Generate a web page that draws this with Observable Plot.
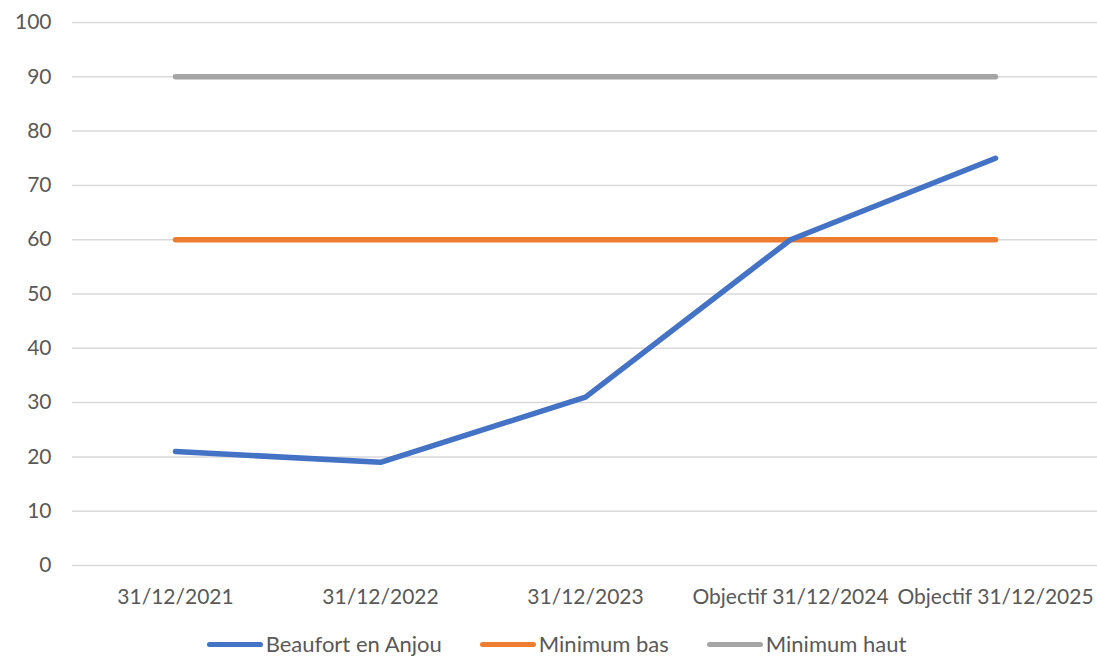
<!DOCTYPE html>
<html><head><meta charset="utf-8">
<script src="https://cdn.jsdelivr.net/npm/d3@7"></script>
<script src="https://cdn.jsdelivr.net/npm/@observablehq/plot@0.6"></script>
<style>
html,body{margin:0;padding:0;background:#fff;overflow:hidden;}
body{font-family:Lato,"Open Sans",sans-serif;color:#595959;}
#legend{display:flex;justify-content:center;height:36px;align-items:center;font-size:22px;line-height:24px;margin-left:16px;margin-top:16px;}
.item{display:flex;align-items:center;margin:0 19px;}
.sw{width:56px;height:5px;border-radius:3px;margin-right:3px;}
</style></head><body>
<div id="chart"></div>
<div id="legend"></div>
<script>
const categories = ["31/12/2021","31/12/2022","31/12/2023","Objectif 31/12/2024","Objectif 31/12/2025"];
const beaufort = [21, 19, 31, 60, 75];
const minBas = [60, 60, 60, 60, 60];
const minHaut = [90, 90, 90, 90, 90];
const seriesNames = ["Beaufort en Anjou","Minimum bas","Minimum haut"];
const colors = ["#4472c4","#ed7d31","#a5a5a5"];
const yTicks = [0,10,20,30,40,50,60,70,80,90,100];

const rows = [];
[beaufort, minBas, minHaut].forEach((arr, s) => arr.forEach((v, i) => rows.push({cat: categories[i], value: v, series: seriesNames[s]})));

const plot = Plot.plot({
  width: 1097, height: 610,
  marginTop: 22, marginBottom: 45, marginLeft: 72, marginRight: 0,
  style: {fontFamily: "Lato, 'Open Sans', sans-serif", fontSize: "21px", color: "#595959", background: "#fff"},
  x: {type: "point", domain: categories, padding: 0.5, label: null},
  y: {domain: [0, 100], label: null},
  color: {domain: seriesNames, range: colors},
  marks: [
    Plot.gridY(yTicks, {stroke: "#d9d9d9", strokeWidth: 1.5, strokeOpacity: 1}),
    Plot.axisY(yTicks, {tickSize: 0, tickPadding: 21, fontSize: 21, fill: "#595959", label: null}),
    Plot.axisX({tickSize: 0, tickPadding: 24, fontSize: 21, fill: "#595959", label: null}),
    Plot.line(rows.filter(d => d.series === "Minimum haut"), {x: "cat", y: "value", stroke: colors[2], strokeWidth: 5.5, strokeLinecap: "round"}),
    Plot.line(rows.filter(d => d.series === "Minimum bas"), {x: "cat", y: "value", stroke: colors[1], strokeWidth: 5.5, strokeLinecap: "round"}),
    Plot.line(rows.filter(d => d.series === "Beaufort en Anjou"), {x: "cat", y: "value", stroke: colors[0], strokeWidth: 5.5, strokeLinecap: "round", strokeLinejoin: "round"})
  ]
});
document.getElementById("chart").appendChild(plot);

const lg = document.getElementById("legend");
seriesNames.forEach((n, i) => {
  const it = document.createElement("div"); it.className = "item";
  const sw = document.createElement("div"); sw.className = "sw"; sw.style.background = colors[i];
  const t = document.createElement("span"); t.textContent = n;
  it.appendChild(sw); it.appendChild(t); lg.appendChild(it);
});
</script>
</body></html>
